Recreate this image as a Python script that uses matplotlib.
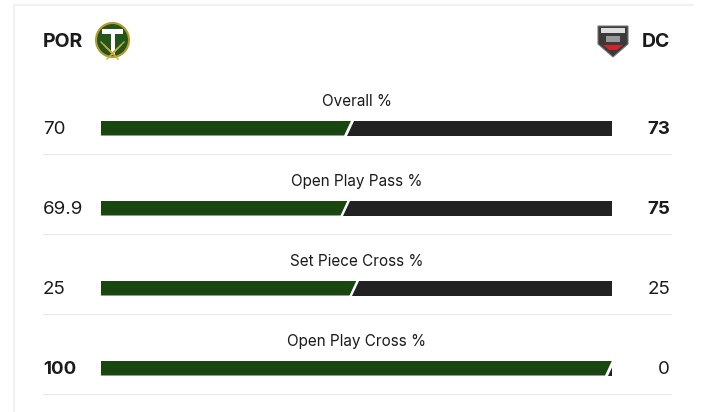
import matplotlib.pyplot as plt
from matplotlib.patches import Polygon, Rectangle, Ellipse

plt.rcParams['font.family'] = ['Inter', 'DejaVu Sans']

home_team = 'POR'
away_team = 'DC'
stat_names = ['Overall %', 'Open Play Pass %', 'Set Piece Cross %', 'Open Play Cross %']
home_values = [70, 69.9, 25, 100]
away_values = [73, 75, 25, 0]
home_labels = ['70', '69.9', '25', '100']
away_labels = ['73', '75', '25', '0']

GREEN = '#18470f'
DARK = '#222222'
TEXT = '#1b1b1b'
LINE = '#ebebeb'

fig = plt.figure(figsize=(7.04, 4.12), dpi=100)
ax = fig.add_axes([0, 0, 1, 1])
ax.set_xlim(0, 704)
ax.set_ylim(412, 0)
ax.axis('off')

# card border (top and left edge)
ax.plot([14, 693], [5, 5], color='#efefef', lw=1.2)
ax.plot([14, 14], [5, 412], color='#efefef', lw=1.2)

# header
ax.text(43, 42, home_team, fontsize=14, fontweight='bold', color=TEXT, va='center', ha='left')
ax.text(670, 42, away_team, fontsize=14, fontweight='bold', color=TEXT, va='center', ha='right')

# Timbers-like crest
ax.add_patch(Ellipse((112.5, 40), 33, 34, facecolor='#22561a', edgecolor='#b99a2c', lw=1.5))
for k in range(4):
    ax.plot([101 + k * 3, 109 + k * 3], [42 + k * 3, 50 + k * 3], color='#c8a83a', lw=1)
    ax.plot([124 - k * 3, 116 - k * 3], [42 + k * 3, 50 + k * 3], color='#c8a83a', lw=1)
ax.add_patch(Rectangle((102, 29), 21, 5, facecolor='white', edgecolor='none'))
ax.add_patch(Rectangle((110.5, 34), 4, 21, facecolor='white', edgecolor='none'))

# DC-like crest
shield = [(598, 26), (628, 26), (628, 44), (613, 57), (598, 44)]
ax.add_patch(Polygon(shield, closed=True, facecolor='#3a3a3a', edgecolor='#777777', lw=0.8))
ax.add_patch(Rectangle((601, 28), 24, 5, facecolor='#dddddd', edgecolor='none'))
ax.add_patch(Rectangle((606, 36), 14, 6, facecolor='#999999', edgecolor='none'))
ax.add_patch(Polygon([(603, 45), (623, 45), (617, 50), (609, 50)], closed=True,
                     facecolor='#d6202a', edgecolor='none'))

# rows
x0, x1 = 101, 612
bar_h = 15
slant = 7
gap = 2.5
row_y = [128, 208, 288, 368]

for i, name in enumerate(stat_names):
    yc = row_y[i]
    top, bot = yc - bar_h / 2, yc + bar_h / 2
    total = home_values[i] + away_values[i]
    frac = home_values[i] / total if total else 0.5
    sx = x0 + frac * (x1 - x0)

    clip = Rectangle((x0, top), x1 - x0, bar_h, transform=ax.transData)
    g = Polygon([(x0, top), (sx, top), (sx - slant, bot), (x0, bot)], closed=True,
                facecolor=GREEN, edgecolor='none')
    b = Polygon([(sx + gap, top), (x1 + 20, top), (x1 + 20, bot), (sx - slant + gap, bot)],
                closed=True, facecolor=DARK, edgecolor='none')
    ax.add_patch(g)
    ax.add_patch(b)
    g.set_clip_path(clip)
    b.set_clip_path(clip)

    ax.text((x0 + x1) / 2, yc - 26.5, name, fontsize=11, color=TEXT, ha='center', va='center')

    home_bold = home_values[i] > away_values[i]
    away_bold = away_values[i] > home_values[i]
    ax.text(43, yc + 1.5, home_labels[i], fontsize=13.5, color=TEXT, ha='left', va='center',
            fontweight='bold' if home_bold else 'normal')
    ax.text(670, yc + 1.5, away_labels[i], fontsize=13.5, color=TEXT, ha='right', va='center',
            fontweight='bold' if away_bold else 'normal')

    ax.plot([43, 671], [yc + 26, yc + 26], color=LINE, lw=1)

fig.savefig('out.png', dpi=100)
